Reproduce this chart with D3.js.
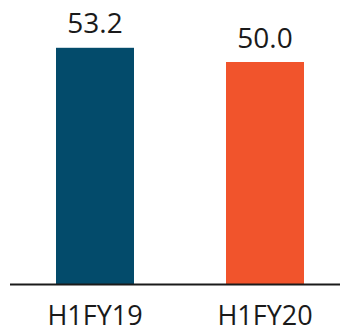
<!DOCTYPE html>
<html>
<head>
<meta charset="utf-8">
<script src="https://cdn.jsdelivr.net/npm/d3@7"></script>
<style>
  html, body { margin: 0; padding: 0; background: #fff; }
  svg { display: block; }
  text { font-family: "Open Sans", "Liberation Sans", sans-serif; fill: #1a1a1a; }
</style>
</head>
<body>
<svg id="chart" width="340" height="332"></svg>
<script>
const categories = ["H1FY19", "H1FY20"];
const values = [53.2, 50.0];
const valueLabels = ["53.2", "50.0"];
const colors = ["#034b6b", "#f1542c"];

const svg = d3.select("#chart");
const baseY = 284;

const x = d3.scaleBand()
  .domain(categories)
  .range([10, 350])
  .paddingInner(0.5412)
  .paddingOuter(0.2706);

const y = d3.scaleLinear()
  .domain([0, 60])
  .range([baseY, baseY - 60 * 4.44]);

// bars
svg.selectAll("rect.bar")
  .data(categories)
  .join("rect")
  .attr("class", "bar")
  .attr("x", d => x(d))
  .attr("width", x.bandwidth())
  .attr("y", (d, i) => y(values[i]))
  .attr("height", (d, i) => y(0) - y(values[i]))
  .attr("fill", (d, i) => colors[i]);

// value labels
svg.selectAll("text.val")
  .data(categories)
  .join("text")
  .attr("class", "val")
  .attr("x", d => x(d) + x.bandwidth() / 2)
  .attr("y", (d, i) => y(values[i]) - 14.5)
  .attr("text-anchor", "middle")
  .attr("font-size", 28)
  .text((d, i) => valueLabels[i]);

// baseline axis
const axis = d3.axisBottom(x).tickSize(0).tickPadding(0);
const g = svg.append("g")
  .attr("transform", `translate(0,${baseY})`)
  .call(axis);
g.select(".domain").remove();
g.append("line")
  .attr("x1", 10).attr("x2", 340)
  .attr("y1", 0.5).attr("y2", 0.5)
  .attr("stroke", "#1a1a1a")
  .attr("stroke-width", 2);
g.selectAll(".tick text")
  .attr("font-size", 27)
  .attr("dy", 0)
  .attr("y", 41)
  .attr("fill", "#1a1a1a")
  .style("font-family", "'Open Sans', 'Liberation Sans', sans-serif");
</script>
</body>
</html>
